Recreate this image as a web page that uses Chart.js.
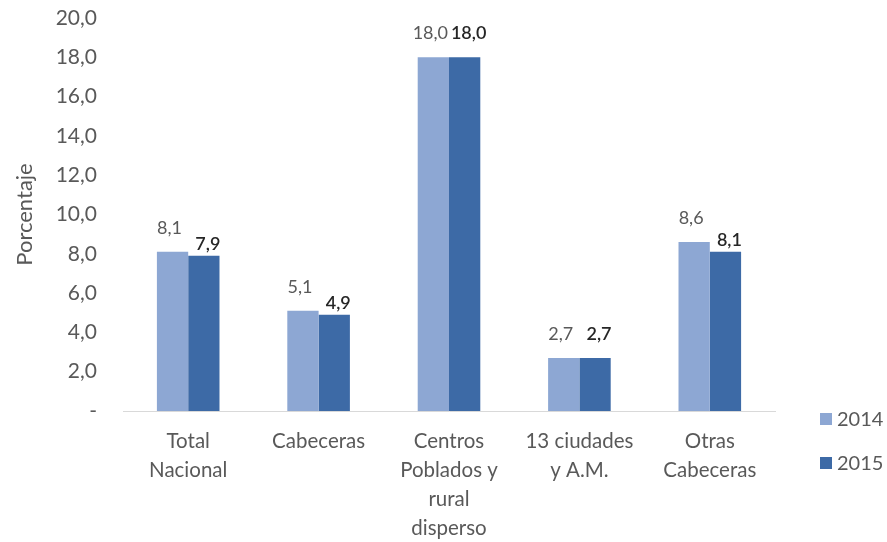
<!DOCTYPE html>
<html lang="es">
<head>
<meta charset="UTF-8">
<title>Porcentaje 2014 - 2015</title>
<script src="https://cdn.jsdelivr.net/npm/chart.js@4.4.0/dist/chart.umd.min.js"></script>
<style>
  html, body { margin: 0; padding: 0; background: #fff; }
  #wrap { width: 887px; height: 542px; position: relative; }
</style>
</head>
<body>
<div id="wrap"><canvas id="chart"></canvas></div>
<script>
// data
var categories = [
    ['Total', 'Nacional'],
    ['Cabeceras'],
    ['Centros', 'Poblados y', 'rural', 'disperso'],
    ['13 ciudades', 'y A.M.'],
    ['Otras', 'Cabeceras']
];
var values2014 = [8.1, 5.1, 18.0, 2.7, 8.6];
var values2015 = [7.9, 4.9, 18.0, 2.7, 8.1];
var seriesNames = ['2014', '2015'];

var grey = '#595959';
var font = 'Lato';

function fmt(v) {
    return v.toFixed(1).replace('.', ',');
}

// value labels above each bar
var barLabels = {
    id: 'barLabels',
    afterDatasetsDraw: function (chart) {
        var ctx = chart.ctx;
        var first = chart.data.datasets[0].data;
        ctx.save();
        ctx.textAlign = 'center';
        ctx.textBaseline = 'middle';
        chart.data.datasets.forEach(function (ds, i) {
            var meta = chart.getDatasetMeta(i);
            if (i === 0) {
                ctx.font = '18px ' + font;
                ctx.fillStyle = grey;
            } else {
                ctx.font = '600 18px ' + font;
                ctx.fillStyle = '#262626';
            }
            meta.data.forEach(function (bar, j) {
                var v = ds.data[j];
                var off = 24;
                if (i === 1 && v !== first[j]) off = 12;
                ctx.fillText(fmt(v), bar.x + (i === 1 ? 4 : -3), bar.y - off);
            });
        });
        ctx.restore();
    }
};

// legend drawn at the lower right, like the original
var sideLegend = {
    id: 'sideLegend',
    afterDraw: function (chart) {
        var ctx = chart.ctx;
        ctx.save();
        ctx.font = '20px ' + font;
        ctx.textBaseline = 'middle';
        ctx.textAlign = 'left';
        chart.data.datasets.forEach(function (ds, i) {
            var y = 419 + i * 44;
            ctx.fillStyle = ds.backgroundColor;
            ctx.fillRect(820, y - 6, 12, 12);
            ctx.fillStyle = grey;
            ctx.fillText(ds.label, 837, y + 1);
        });
        ctx.restore();
    }
};

new Chart(document.getElementById('chart'), {
    type: 'bar',
    data: {
        labels: categories,
        datasets: [
            { label: seriesNames[0], data: values2014, backgroundColor: '#8DA7D3' },
            { label: seriesNames[1], data: values2015, backgroundColor: '#3D6AA6' }
        ]
    },
    options: {
        responsive: true,
        maintainAspectRatio: false,
        animation: false,
        layout: { padding: { top: 0, left: 0, right: 112, bottom: 0 } },
        datasets: { bar: { categoryPercentage: 0.48, barPercentage: 1.0 } },
        plugins: {
            tooltip: { enabled: false },
            legend: { display: false }
        },
        scales: {
            x: {
                grid: { display: false, drawTicks: false },
                border: { display: true, color: '#D9D9D9', width: 1 },
                ticks: {
                    color: grey,
                    font: { family: font, size: 20.5, lineHeight: 1.41 },
                    maxRotation: 0,
                    autoSkip: false,
                    padding: 16
                },
                afterFit: function (scale) {
                    scale.height = 131;
                    scale.paddingLeft = 0;
                    scale.paddingRight = 0;
                }
            },
            y: {
                min: 0,
                max: 20,
                grid: { display: false, drawTicks: false },
                border: { display: false },
                ticks: {
                    stepSize: 2,
                    color: grey,
                    font: { family: font, size: 21 },
                    padding: 26,
                    callback: function (v) { return v === 0 ? '-' : fmt(v); }
                },
                title: {
                    display: true,
                    text: 'Porcentaje',
                    color: grey,
                    font: { family: font, size: 22 },
                    padding: { top: 12, bottom: 0 }
                },
                afterFit: function (scale) {
                    scale.width = 123;
                    scale.paddingTop = 18;
                    scale.paddingBottom = 0;
                }
            }
        }
    },
    plugins: [barLabels, sideLegend]
});
</script>
</body>
</html>
